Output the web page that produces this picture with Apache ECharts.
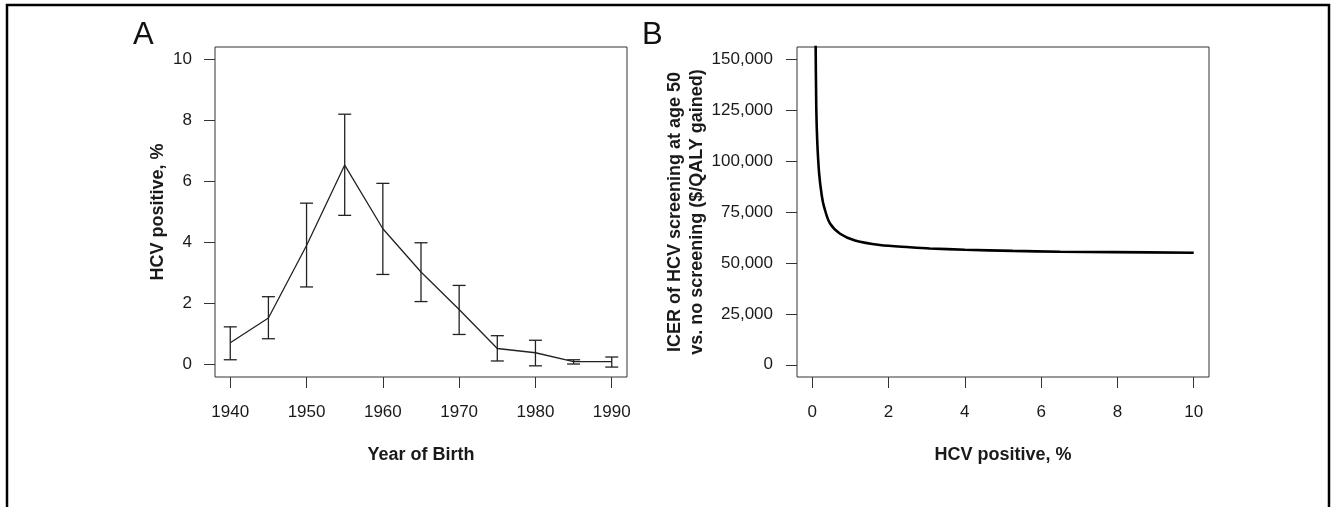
<!DOCTYPE html>
<html style="height: 100%">
<head>
    <meta charset="utf-8">
    <script src="https://cdn.jsdelivr.net/npm/echarts@6/dist/echarts.min.js"></script>
</head>
<body style="height: 100%; margin: 0; background: #fff">
<div id="main" style="width: 1333px; height: 507px"></div>
<script type="text/javascript">
// panel A: HCV prevalence by birth cohort
var years = [1940, 1945, 1950, 1955, 1960, 1965, 1970, 1975, 1980, 1985, 1990];
var hcvMean = [0.71, 1.52, 3.90, 6.54, 4.45, 3.03, 1.80, 0.52, 0.38, 0.09, 0.09];
var hcvLow = [0.15, 0.84, 2.54, 4.89, 2.95, 2.06, 0.98, 0.11, -0.05, 0.01, -0.09];
var hcvHigh = [1.23, 2.22, 5.29, 8.21, 5.94, 3.99, 2.59, 0.94, 0.79, 0.15, 0.24];
var yearTicks = [1940, 1950, 1960, 1970, 1980, 1990];
var pctTicks = [0, 2, 4, 6, 8, 10];

// panel B: ICER vs prevalence
var prevX = [0.085, 0.105, 0.13, 0.18, 0.25, 0.31, 0.46, 0.73, 1.12, 1.77, 2.56, 3.08, 4, 5.26, 6.5, 7.88, 10];
var icerY = [165000, 126500, 110000, 94000, 83000, 77500, 69500, 64300, 61000, 58800, 57700, 57100, 56500, 55900, 55500, 55300, 55000];
var prevTicks = [0, 2, 4, 6, 8, 10];
var icerTicks = [0, 25000, 50000, 75000, 100000, 125000, 150000];

var dom = document.getElementById('main');
var myChart = echarts.init(dom);

var font = 'Liberation Sans, Arial, sans-serif';
var ink = '#1a1a1a';

function valueAxis(gridIndex, min, max, ticks, name, gap, labelMargin, fmt) {
    return {
        type: 'value',
        gridIndex: gridIndex,
        min: min,
        max: max,
        name: name,
        nameLocation: 'middle',
        nameGap: gap,
        nameTextStyle: {fontFamily: font, fontSize: 18, fontWeight: 'bold', color: ink, lineHeight: 22},
        axisLine: {show: false, onZero: false},
        splitLine: {show: false},
        axisTick: {show: true, inside: false, length: 11, customValues: ticks, lineStyle: {color: '#333', width: 1}},
        axisLabel: {
            customValues: ticks, margin: labelMargin,
            fontFamily: font, fontSize: 17, color: ink,
            formatter: fmt || function (v) { return String(v); }
        }
    };
}

var pairs = [];
for (var i = 0; i < prevX.length; i++) pairs.push([prevX[i], icerY[i]]);

var barData = [];
for (var j = 0; j < years.length; j++) barData.push([years[j], hcvLow[j], hcvHigh[j]]);

var option = {
    animation: false,
    grid: [
        {left: 215, top: 47, right: 706, bottom: 130, show: true, borderColor: '#333', borderWidth: 1},
        {left: 797, top: 47, right: 124, bottom: 130, show: true, borderColor: '#333', borderWidth: 1}
    ],
    xAxis: [
        valueAxis(0, 1938, 1992, yearTicks, 'Year of Birth', 67, 27),
        valueAxis(1, -0.4, 10.4, prevTicks, 'HCV positive, %', 67, 27)
    ],
    yAxis: [
        valueAxis(0, -0.416, 10.416, pctTicks, 'HCV positive, %', 40, 23),
        valueAxis(1, -6000, 156000, icerTicks, 'ICER of HCV screening at age 50\nvs. no screening ($/QALY gained)', 88, 24,
            function (v) { return v.toLocaleString('en-US'); })
    ],
    graphic: [
        {type: 'rect', shape: {x: 7, y: 5, width: 1322, height: 520}, style: {fill: 'none', stroke: '#000', lineWidth: 2.5}},
        {type: 'text', left: 133, top: 20, style: {text: 'A', fontFamily: font, fontSize: 31, fill: '#111'}},
        {type: 'text', left: 642, top: 20, style: {text: 'B', fontFamily: font, fontSize: 31, fill: '#111'}}
    ],
    series: [
        {
            type: 'line',
            xAxisIndex: 0, yAxisIndex: 0,
            data: years.map(function (y, k) { return [y, hcvMean[k]]; }),
            symbol: 'none',
            lineStyle: {color: '#222', width: 1.3}
        },
        {
            type: 'custom',
            xAxisIndex: 0, yAxisIndex: 0,
            data: barData,
            renderItem: function (params, api) {
                var lo = api.coord([api.value(0), api.value(1)]);
                var hi = api.coord([api.value(0), api.value(2)]);
                var hw = 6.5;
                var st = {stroke: '#222', lineWidth: 1.3};
                return {
                    type: 'group',
                    children: [
                        {type: 'line', shape: {x1: lo[0], y1: lo[1], x2: hi[0], y2: hi[1]}, style: st},
                        {type: 'line', shape: {x1: lo[0] - hw, y1: lo[1], x2: lo[0] + hw, y2: lo[1]}, style: st},
                        {type: 'line', shape: {x1: hi[0] - hw, y1: hi[1], x2: hi[0] + hw, y2: hi[1]}, style: st}
                    ]
                };
            }
        },
        {
            type: 'line',
            xAxisIndex: 1, yAxisIndex: 1,
            data: pairs,
            symbol: 'none',
            smooth: 0.3,
            clip: true,
            lineStyle: {color: '#000', width: 2.6}
        }
    ]
};

myChart.setOption(option);
</script>
</body>
</html>
